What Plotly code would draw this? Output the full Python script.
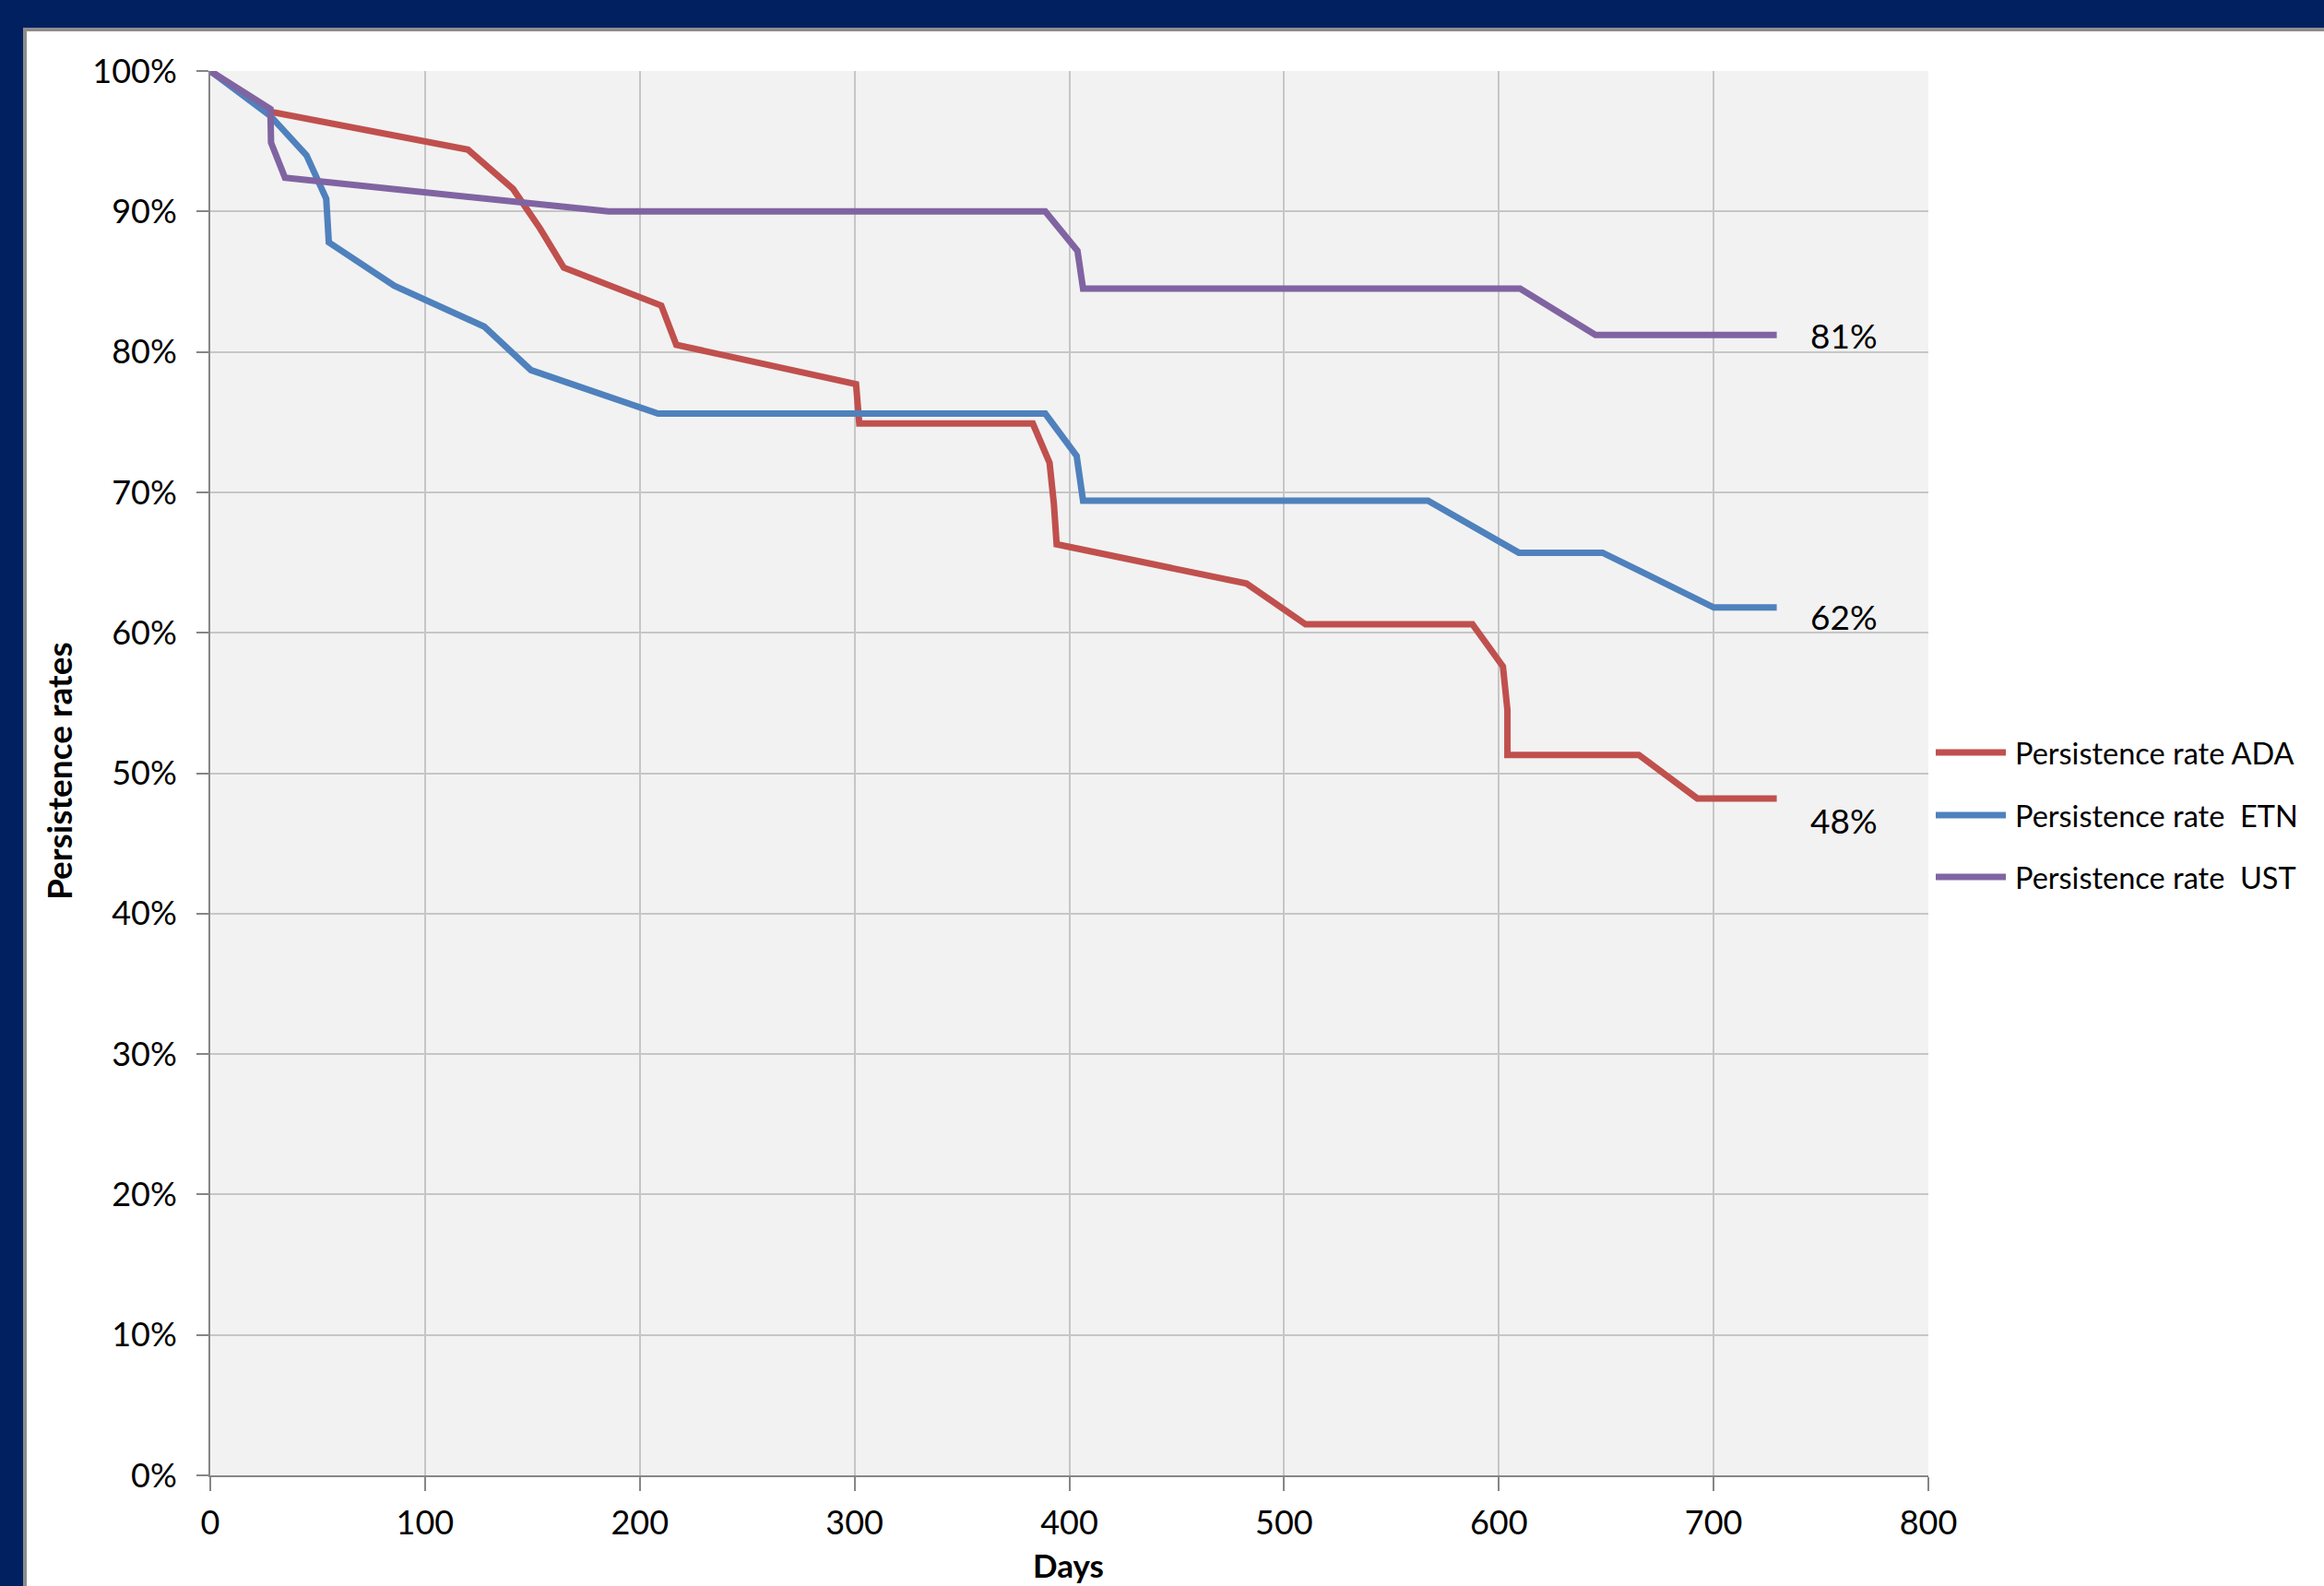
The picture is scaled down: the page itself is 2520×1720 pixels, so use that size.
import plotly.graph_objects as go

# ---------------- data ----------------
ada_days = [0, 28, 120, 141, 153.5, 164.6, 210, 217, 300.7, 302.2, 383, 390.8, 392.8, 394.1, 482.5, 510, 587.7, 601.9, 604, 604, 665.2, 692.4, 729.4]
ada_rate = [100, 97.1, 94.4, 91.6, 88.8, 86.0, 83.3, 80.5, 77.7, 74.9, 74.9, 72.1, 69.2, 66.3, 63.5, 60.6, 60.6, 57.6, 54.5, 51.3, 51.3, 48.2, 48.2]

etn_days = [0, 28, 44.8, 54, 55.2, 85.7, 127.6, 149.3, 208.5, 388.8, 403.4, 406.4, 567, 609.3, 648.3, 700.1, 729.4]
etn_rate = [100, 96.8, 94.0, 90.9, 87.8, 84.7, 81.8, 78.7, 75.6, 75.6, 72.6, 69.4, 69.4, 65.7, 65.7, 61.8, 61.8]

ust_days = [0, 28, 28.3, 34.8, 185.5, 388.8, 403.8, 406.4, 609.9, 645, 729.4]
ust_rate = [100, 97.3, 94.9, 92.4, 90.0, 90.0, 87.2, 84.5, 84.5, 81.2, 81.2]

series_names = ["Persistence rate ADA", "Persistence rate\u00a0 ETN", "Persistence rate\u00a0 UST"]
series_colors = ["#C0504D", "#4F81BD", "#8064A2"]
end_label_shift = [-24, -10, 0]   # pixel offsets of the end labels

x_ticks = [0, 100, 200, 300, 400, 500, 600, 700, 800]
y_ticks = [0, 10, 20, 30, 40, 50, 60, 70, 80, 90, 100]

x_title = "Days"
y_title = "Persistence rates"

# ---------------- layout geometry ----------------
W, H = 2520, 1720
L, R, T, B = 228, 429, 77, 120
PW, PH = W - L - R, H - T - B
FONT = "Lato"
NAVY = "#002060"


def px(xpix):
    return (xpix - L) / PW


def py(ypix):
    return (H - B - ypix) / PH


fig = go.Figure()

all_series = [(ada_days, ada_rate), (etn_days, etn_rate), (ust_days, ust_rate)]
for (d, r), name, col in zip(all_series, series_names, series_colors):
    fig.add_trace(go.Scatter(
        x=d, y=r, mode="lines", name=name,
        line=dict(color=col, width=7),
        showlegend=False, hoverinfo="x+y+name",
    ))

annotations = []
# end-of-line value labels
for (d, r), col, shift in zip(all_series, series_colors, end_label_shift):
    annotations.append(dict(
        x=744, y=r[-1], xref="x", yref="y", xanchor="left", yanchor="middle",
        text=f"{round(r[-1])}%", showarrow=False, yshift=shift,
        font=dict(family=FONT, size=37, color="#000000"),
    ))

# manual legend (long line samples like the reference)
shapes = []
leg_y = [816, 884, 951]
for name, col, ly in zip(series_names, series_colors, leg_y):
    shapes.append(dict(type="line", xref="paper", yref="paper",
                       x0=px(2099), x1=px(2175), y0=py(ly), y1=py(ly),
                       line=dict(color=col, width=7)))
    annotations.append(dict(
        x=px(2183), y=py(ly), xref="paper", yref="paper", xanchor="left", yanchor="middle",
        text=name, showarrow=False,
        font=dict(family=FONT, size=32.5, color="#000000"),
    ))

# axis titles
annotations.append(dict(x=px(1158), y=py(1697), xref="paper", yref="paper",
                        xanchor="center", yanchor="middle", text=f"<b>{x_title}</b>",
                        showarrow=False, font=dict(family=FONT, size=35, color="#000000")))
annotations.append(dict(x=px(64), y=py(836), xref="paper", yref="paper",
                        xanchor="center", yanchor="middle", text=f"<b>{y_title}</b>",
                        textangle=-90, showarrow=False,
                        font=dict(family=FONT, size=37, color="#000000")))

# navy slide frame
shapes += [
    dict(type="rect", xref="paper", yref="paper", x0=px(0), x1=px(W), y0=py(0), y1=py(30),
         fillcolor=NAVY, line=dict(width=0), layer="below"),
    dict(type="rect", xref="paper", yref="paper", x0=px(0), x1=px(W), y0=py(30), y1=py(34),
         fillcolor="#8C8C8C", line=dict(width=0), layer="below"),
    dict(type="rect", xref="paper", yref="paper", x0=px(0), x1=px(25), y0=py(0), y1=py(H),
         fillcolor=NAVY, line=dict(width=0), layer="below"),
    dict(type="rect", xref="paper", yref="paper", x0=px(25), x1=px(29), y0=py(34), y1=py(H),
         fillcolor="#8C8C8C", line=dict(width=0), layer="below"),
]

fig.update_layout(
    width=W, height=H, autosize=False,
    margin=dict(l=L, r=R, t=T, b=B, pad=0),
    paper_bgcolor="#FFFFFF", plot_bgcolor="#F2F2F2",
    font=dict(family=FONT, color="#000000"),
    showlegend=False,
    annotations=annotations, shapes=shapes,
    xaxis=dict(range=[0, 800], tickvals=x_ticks, ticktext=[str(v) for v in x_ticks],
               showgrid=True, gridcolor="#C6C6C6", gridwidth=2,
               showline=True, linecolor="#868686", linewidth=2,
               ticks="outside", ticklen=15, tickwidth=2, tickcolor="#868686",
               ticklabelstandoff=4,
               tickfont=dict(family=FONT, size=36, color="#000000"), zeroline=False),
    yaxis=dict(range=[0, 100], tickvals=y_ticks, ticktext=[f"{v}%" for v in y_ticks],
               showgrid=True, gridcolor="#C6C6C6", gridwidth=2,
               showline=True, linecolor="#868686", linewidth=2,
               ticks="outside", ticklen=13, tickwidth=2, tickcolor="#868686",
               ticklabelstandoff=14,
               tickfont=dict(family=FONT, size=36, color="#000000"), zeroline=False),
)

fig.write_html("out.html")
